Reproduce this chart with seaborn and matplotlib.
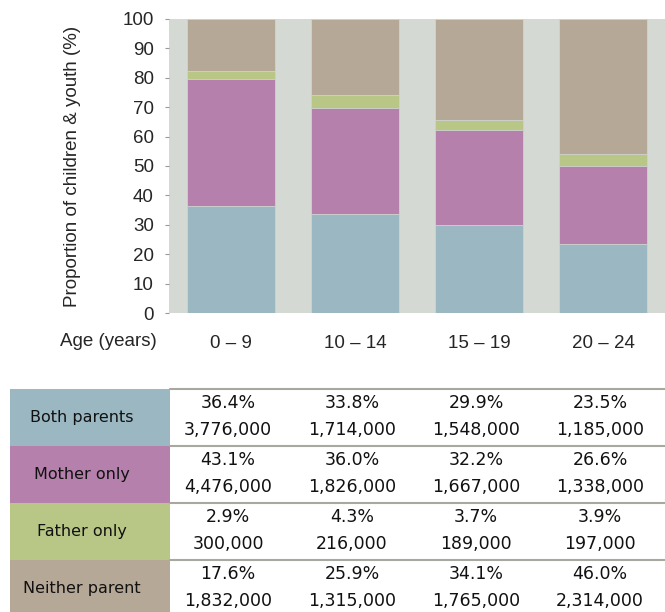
import matplotlib
matplotlib.use("Agg")
import matplotlib.pyplot as plt
import seaborn as sns
import numpy as np
import pandas as pd
from matplotlib.patches import Rectangle

ages = ["0 – 9", "10 – 14", "15 – 19", "20 – 24"]
groups = ["Both parents", "Mother only", "Father only", "Neither parent"]
pct_both = [36.4, 33.8, 29.9, 23.5]
pct_mother = [43.1, 36.0, 32.2, 26.6]
pct_father = [2.9, 4.3, 3.7, 3.9]
pct_neither = [17.6, 25.9, 34.1, 46.0]
cnt_both = ["3,776,000", "1,714,000", "1,548,000", "1,185,000"]
cnt_mother = ["4,476,000", "1,826,000", "1,667,000", "1,338,000"]
cnt_father = ["300,000", "216,000", "189,000", "197,000"]
cnt_neither = ["1,832,000", "1,315,000", "1,765,000", "2,314,000"]
colors = ["#9bb8c2", "#b580ac", "#b8c785", "#b5a897"]
yticks = list(range(0, 101, 10))

pcts = [pct_both, pct_mother, pct_father, pct_neither]
cnts = [cnt_both, cnt_mother, cnt_father, cnt_neither]

sns.set_theme(style="white")
plt.rcParams["font.family"] = ["Liberation Sans", "DejaVu Sans"]

W, H = 665, 612
fig = plt.figure(figsize=(W / 100, H / 100), dpi=100)

def px(x0, y0, x1, y1):
    return [x0 / W, 1 - y1 / H, (x1 - x0) / W, (y1 - y0) / H]

ax = fig.add_axes(px(169, 19, 665, 313))
ax.set_facecolor("#d4d9d3")

cum = np.cumsum(np.array(pcts), axis=0)
# draw from top layer down so each layer overlays the one above
for i in range(3, -1, -1):
    df = pd.DataFrame({"age": ages, "val": cum[i]})
    sns.barplot(data=df, x="age", y="val", color=colors[i], ax=ax,
                width=0.71, saturation=1, edgecolor="#cfd3cf", linewidth=0.6,
                zorder=2)

FS = 13.5
ax.set_xlim(-0.5, 3.5)
ax.set_ylim(0, 100)
ax.set_yticks(yticks)
ax.set_yticklabels([str(t) for t in yticks], fontsize=FS)
ax.tick_params(axis="y", left=True, length=3, width=0.8, color="#999999", pad=8)
ax.tick_params(axis="x", bottom=False, pad=10, labelsize=FS)
ax.set_xlabel("")
ax.set_ylabel("Proportion of children & youth (%)", fontsize=FS, labelpad=30)
for s in ax.spines.values():
    s.set_visible(False)

fig.text(60 / W, 1 - 341 / H, "Age (years)", ha="left", va="center", fontsize=FS)

# table
tax = fig.add_axes([0, 0, 1, 1])
tax.set_xlim(0, W)
tax.set_ylim(H, 0)
tax.axis("off")
tax.patch.set_alpha(0)

row_top = 389
row_h = 57
col_centers = [169 + (j + 0.5) * 124 for j in range(4)]
tfont = ["DejaVu Sans"]
for i, g in enumerate(groups):
    y0 = row_top + i * row_h
    tax.add_patch(Rectangle((10, y0), 160, row_h, facecolor=colors[i], edgecolor="none"))
    tax.plot([170, 665], [y0, y0], color="#a8a8a0", lw=1.5)
    tax.text(82, y0 + row_h / 2, g, ha="center", va="center", fontsize=11.5, family=tfont,
             color="#111111")
    for j in range(4):
        tax.text(col_centers[j] - 3, y0 + 14, f"{pcts[i][j]:.1f}%", ha="center", va="center",
                 fontsize=12.5, family=tfont, color="#111111")
        tax.text(col_centers[j] - 3, y0 + 41, cnts[i][j], ha="center", va="center",
                 fontsize=12.5, family=tfont, color="#111111")

fig.savefig("out.png", dpi=100)
